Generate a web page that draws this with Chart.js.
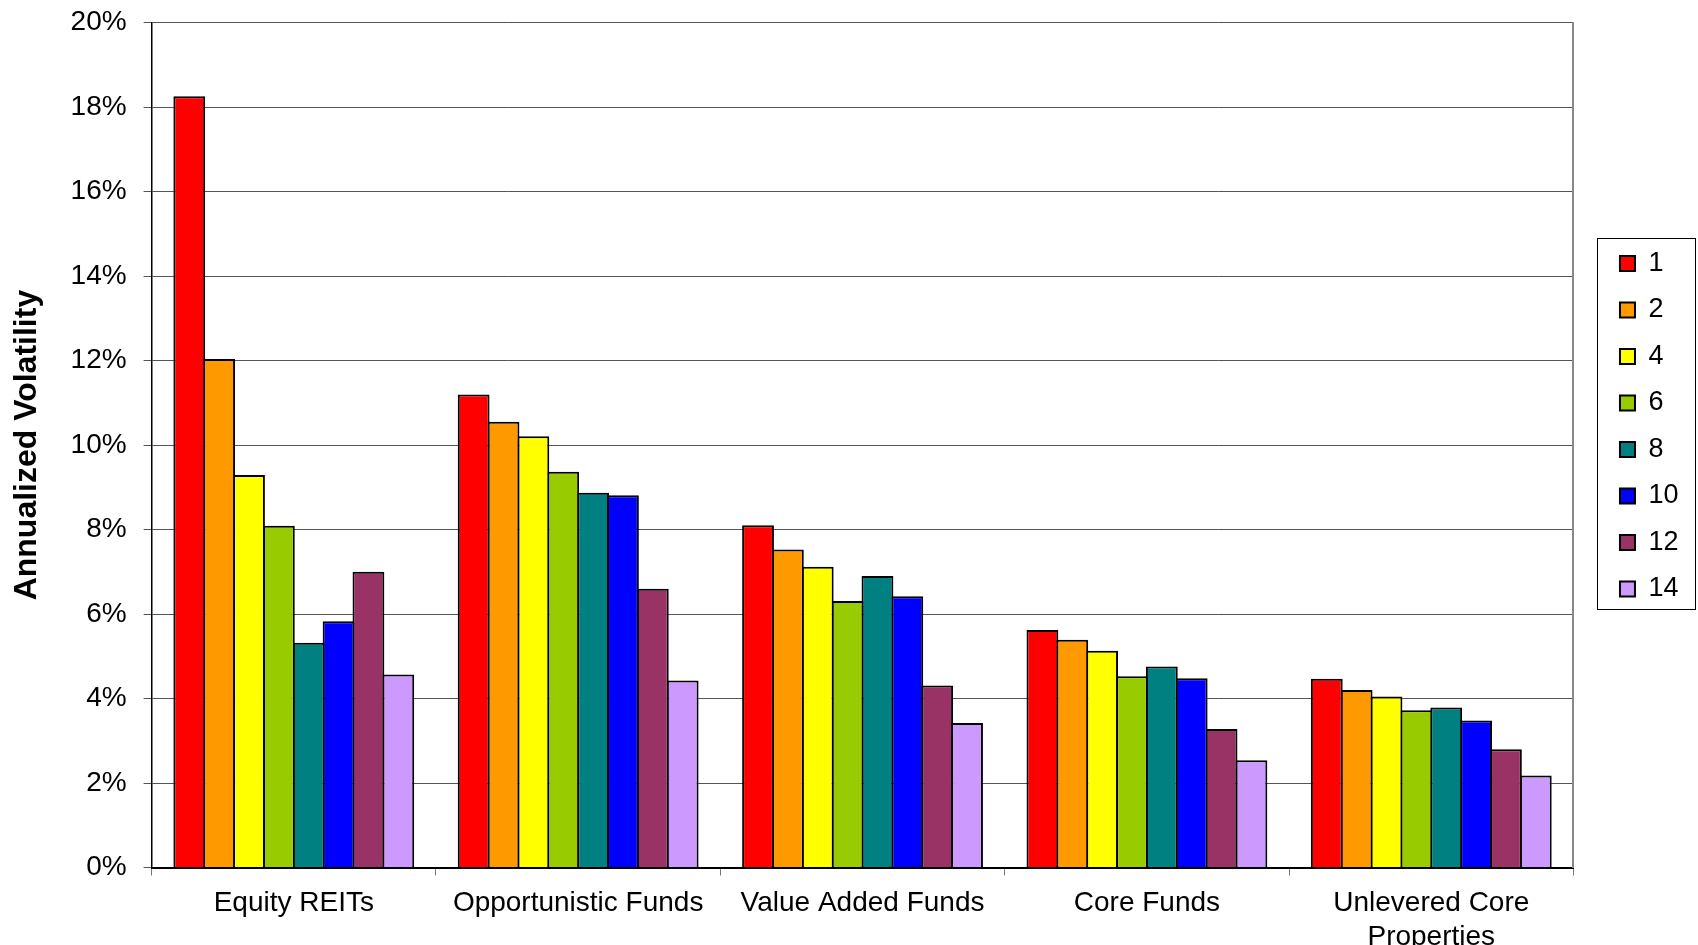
<!DOCTYPE html>
<html>
<head>
<meta charset="utf-8">
<script src="https://cdn.jsdelivr.net/npm/chart.js@4.4.1/dist/chart.umd.min.js"></script>
<style>
html,body{margin:0;padding:0;background:#ffffff;}
#wrap{width:1698px;height:945px;position:relative;}
</style>
</head>
<body>
<div id="wrap"><canvas id="c" width="1698" height="945"></canvas></div>
<script>
// ---- data ----
const categories = ['Equity REITs', 'Opportunistic Funds', 'Value Added Funds', 'Core Funds', ['Unlevered Core', 'Properties']];
const seriesNames = ['1', '2', '4', '6', '8', '10', '12', '14'];
const s1  = [18.26, 11.20, 8.10, 5.62, 4.47];
const s2  = [12.04, 10.55, 7.53, 5.39, 4.20];
const s4  = [9.29, 10.21, 7.12, 5.13, 4.05];
const s6  = [8.09, 9.37, 6.31, 4.53, 3.72];
const s8  = [5.32, 8.87, 6.90, 4.76, 3.79];
const s10 = [5.83, 8.81, 6.42, 4.48, 3.48];
const s12 = [7.00, 6.60, 4.31, 3.28, 2.80];
const s14 = [4.57, 4.43, 3.42, 2.54, 2.18];
const yMin = 0, yMax = 20, yStep = 2;
const yTitle = 'Annualized Volatility';

// ---- styles ----
const seriesValues = [s1, s2, s4, s6, s8, s10, s12, s14];
const colors = ['#FF0000', '#FF9900', '#FFFF00', '#99CC00', '#008080', '#0000FF', '#993366', '#CC99FF'];
const FONT = "'Liberation Sans', Arial, Helvetica, sans-serif";
Chart.defaults.font.family = FONT;
Chart.defaults.color = '#000';

const datasets = seriesNames.map((name, i) => ({
  label: name,
  data: seriesValues[i],
  backgroundColor: colors[i],
  borderColor: '#000',
  borderWidth: 2,
  borderSkipped: 'start',
  categoryPercentage: 0.84,
  barPercentage: 1.066
}));

const legendBoxPlugin = {
  id: 'legendBox',
  afterDraw(chart) {
    const lg = chart.legend;
    const hb = lg && lg.legendHitBoxes;
    if (!hb || !hb.length) return;
    const ctx = chart.ctx;
    const left = Math.min(...hb.map(h => h.left)) - 23;
    const top = Math.min(...hb.map(h => h.top)) - 11.7;
    const bottom = Math.max(...hb.map(h => h.top + h.height)) + 7.3;
    ctx.save();
    ctx.strokeStyle = '#000';
    ctx.lineWidth = 1;
    ctx.strokeRect(Math.round(left) + 0.5, Math.round(top) + 0.5, 98, Math.round(bottom - top));
    ctx.restore();
  }
};

new Chart(document.getElementById('c'), {
  type: 'bar',
  data: { labels: categories, datasets },
  plugins: [legendBoxPlugin],
  options: {
    responsive: false,
    animation: false,
    layout: { padding: { top: 22.7, right: 9.5, bottom: 0, left: 0 } },
    plugins: {
      tooltip: { enabled: false },
      legend: {
        position: 'right',
        align: 'start',
        title: { display: true, text: '', font: { size: 10 }, padding: { top: 195.7, bottom: 0 } },
        labels: {
          boxWidth: 15,
          boxHeight: 15,
          padding: 19.5,
          color: '#000',
          font: { size: 27, family: FONT },
          generateLabels(chart) {
            const items = Chart.defaults.plugins.legend.labels.generateLabels(chart);
            items.forEach(it => { it.lineWidth = 2; it.strokeStyle = '#000'; });
            return items;
          }
        }
      }
    },
    scales: {
      x: {
        offset: true,
        grid: { offset: true, drawOnChartArea: false, drawTicks: true, tickLength: 8, color: '#777', lineWidth: 1 },
        border: { display: true, color: '#000', width: 2 },
        ticks: { font: { size: 28, family: FONT }, color: '#000', padding: 11, maxRotation: 0, autoSkip: false },
        afterFit(scale) { scale.height = 77.5; }
      },
      y: {
        min: yMin, max: yMax,
        ticks: { stepSize: yStep, font: { size: 28, family: FONT }, color: '#000', padding: 17,
                 callback: v => v + '%' },
        grid: { color: '#555', lineWidth: 1, tickLength: 8, drawTicks: true },
        border: { display: true, color: '#000', width: 1.5 },
        title: { display: true, text: yTitle, color: '#000', font: { size: 32, weight: 'bold', family: FONT },
                 padding: { top: 8, bottom: 0 } },
        afterFit(scale) { scale.width = 151.6; scale.paddingTop = 0; scale.paddingBottom = 0; }
      },
      y2: {
        position: 'right',
        display: true,
        min: yMin, max: yMax,
        ticks: { display: false },
        grid: { drawOnChartArea: false, drawTicks: false },
        border: { display: true, color: '#888', width: 2 },
        afterFit(scale) { scale.width = 27; scale.paddingTop = 0; scale.paddingBottom = 0; }
      }
    }
  }
});
</script>
</body>
</html>
